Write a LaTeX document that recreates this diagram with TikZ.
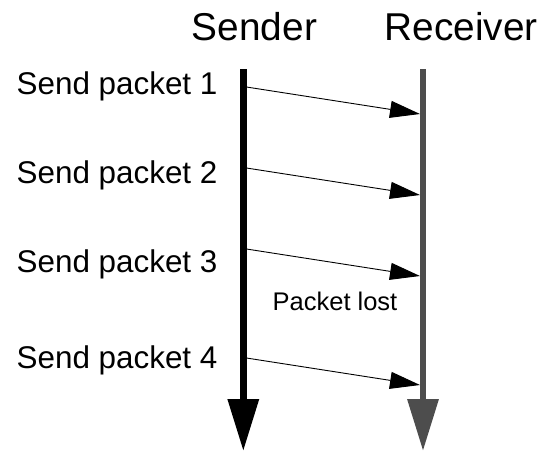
\documentclass[tikz,border=0pt]{standalone}
\usepackage{fontspec}
\setmainfont{Liberation Sans}
\usetikzlibrary{arrows.meta,positioning}
\definecolor{ReceiverGray}{RGB}{77,77,77}
\tikzset{
  lifeline/.style={line width=6.5pt,-{Triangle[length=52pt,width=30pt]}},
  packetarrow/.style={-{Triangle[length=30pt,width=17pt]},line width=0.9pt,draw=black},
  headlabel/.style={anchor=base,inner sep=0pt,font=\fontsize{38.8}{42}\selectfont},
  sendlabel/.style={anchor=base west,inner sep=0pt,font=\fontsize{31.4}{34}\selectfont},
  notelabel/.style={anchor=base,inner sep=0pt,font=\fontsize{25.5}{28}\selectfont},
}

\begin{document}
\begin{tikzpicture}[x=1pt,y=-1pt]
  \useasboundingbox (0,0) rectangle (548,451);
  % lifelines
  \coordinate (stop) at (243.3,69);
  \coordinate (sbot) at (243.3,451);
  \coordinate (rtop) at (423,69);
  \coordinate (rbot) at (423,451);
  \draw[lifeline,black] (stop) -- (sbot);
  \draw[lifeline,ReceiverGray] (rtop) -- (rbot);
  \node[headlabel] (sender) at (254.5,40) {Sender};
  \node[headlabel] (receiver) at (461,40) {Receiver};
  % packets
  \foreach \n/\ys/\yl in {1/87/94, 2/168/183, 3/249/272, 4/358/368}{
    \node[sendlabel] (send\n) at (16.5,\yl) {Send packet \n};
    \coordinate (out\n) at (246.5,\ys);
    \coordinate (in\n) at (420,\ys+27);
    \draw[packetarrow] (out\n) -- (in\n);
  }
  \node[notelabel] (lost) at (335,310) {Packet lost};
\end{tikzpicture}
\end{document}
